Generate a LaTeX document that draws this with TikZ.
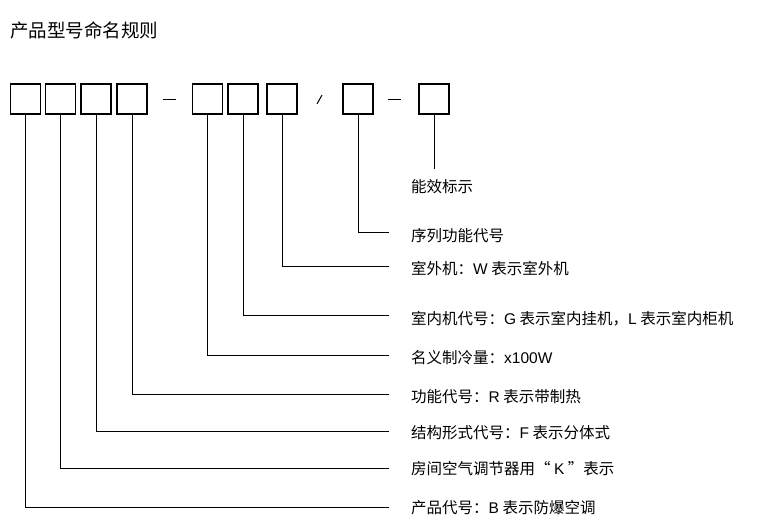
\documentclass[tikz,border=0pt]{standalone}
\usepackage{fontspec}
\newfontfamily\cjk{Noto Sans CJK SC}
\newfontfamily\lat{Liberation Sans}
\usepackage{tikz}
\usetikzlibrary{calc}
\tikzstyle{CodeBox}=[rectangle, draw=black, line width=1.1pt, minimum width=30pt, minimum height=30pt, inner sep=0pt]
\tikzstyle{LabelNode}=[anchor=west, inner sep=0pt, font=\cjk\fontsize{15.5}{18}\selectfont]
\tikzstyle{TitleNode}=[anchor=west, inner sep=0pt, font=\cjk\fontsize{18.5}{22}\selectfont]
\tikzstyle{LeadEdge}=[line width=1pt]
\tikzstyle{SepMark}=[line width=1pt]
\newcommand{\lt}[1]{{\lat #1}}

\begin{document}
\begin{tikzpicture}[x=1pt, y=-1pt]
\useasboundingbox (0,0) rectangle (771,530);
\node[TitleNode](TITLE) at (10,30) {产品型号命名规则};

\node[CodeBox](B1) at (25.5,99) {};
\node[CodeBox](B2) at (60.5,99) {};
\node[CodeBox](B3) at (96,99) {};
\node[CodeBox](B4) at (132,99) {};
\node[CodeBox](B5) at (207.5,99) {};
\node[CodeBox](B6) at (243,99) {};
\node[CodeBox](B7) at (282,99) {};
\node[CodeBox](B8) at (358,99) {};
\node[CodeBox](B9) at (434,99) {};

\draw[SepMark] (163,99) -- (176,99);
\draw[SepMark] (317,104) -- (322,95);
\draw[SepMark] (388,99) -- (401,99);

\node[LabelNode](L9) at (411,187) {能效标示};
\node[LabelNode](L8) at (411,236) {序列功能代号};
\node[LabelNode](L7) at (411,268.5) {室外机：\lt{W} 表示室外机};
\node[LabelNode](L6) at (411,318.5) {室内机代号：\lt{G} 表示室内挂机，\lt{L} 表示室内柜机};
\node[LabelNode](L5) at (411,358) {名义制冷量：\lt{x100W}};
\node[LabelNode](L4) at (411,396.5) {功能代号：\lt{R} 表示带制热};
\node[LabelNode](L3) at (411,432.5) {结构形式代号：\lt{F} 表示分体式};
\node[LabelNode](L2) at (411,469) {房间空气调节器用“ \lt{K} ”表示};
\node[LabelNode](L1) at (411,507.5) {产品代号：\lt{B} 表示防爆空调};

\coordinate (E9) at (434,169);
\coordinate (E8) at (389,232.5);
\coordinate (E7) at (389,266);
\coordinate (E6) at (389,315.5);
\coordinate (E5) at (389,355);
\coordinate (E4) at (389,394.5);
\coordinate (E3) at (389,431.5);
\coordinate (E2) at (389,468.5);
\coordinate (E1) at (389,507.5);

\draw[LeadEdge](B9.south) -- (E9);
\draw[LeadEdge](B8.south) |- (E8);
\draw[LeadEdge](B7.south) |- (E7);
\draw[LeadEdge](B6.south) |- (E6);
\draw[LeadEdge](B5.south) |- (E5);
\draw[LeadEdge](B4.south) |- (E4);
\draw[LeadEdge](B3.south) |- (E3);
\draw[LeadEdge](B2.south) |- (E2);
\draw[LeadEdge](B1.south) |- (E1);
\end{tikzpicture}
\end{document}
